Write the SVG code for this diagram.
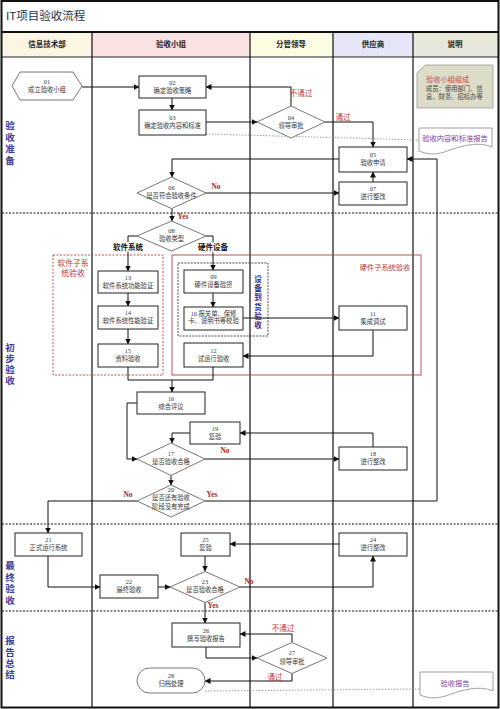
<svg xmlns="http://www.w3.org/2000/svg" width="500" height="709" viewBox="0 0 500 709">
<style>
text{font-family:"Liberation Serif","Noto Sans CJK SC",serif;}
.n{fill:#fff;stroke:#222;stroke-width:1;}
.t{font-size:6.3px;fill:#333;text-anchor:middle;}
.h{font-size:7.5px;font-weight:bold;fill:#222;text-anchor:middle;}
.lane{font-size:9.5px;font-weight:bold;fill:#3a3a9c;text-anchor:middle;}
.c{fill:none;stroke:#111;stroke-width:1;}
.red{font-size:7.5px;fill:#c0392b;text-anchor:middle;}
.yn{font-size:7.5px;font-weight:bold;fill:#a52a2a;text-anchor:middle;}
.bl{font-size:7.5px;font-weight:bold;fill:#111;text-anchor:middle;paint-order:stroke;stroke:#fff;stroke-width:2.5px;}
.dot{fill:none;stroke:#888;stroke-width:0.8;stroke-dasharray:1.5,1.5;}
.doc{fill:#fff;stroke:#888;stroke-width:0.8;}
.pur{font-size:7.3px;fill:#7a3f9a;text-anchor:middle;}
.sep{stroke:#111;stroke-width:1;stroke-dasharray:2,1.5;}
</style>
<defs>
<marker id="a" markerWidth="6" markerHeight="6" refX="5.5" refY="3" orient="auto" markerUnits="userSpaceOnUse">
<path d="M0,0 L6,3 L0,6 z" fill="#111"/>
</marker>
</defs>
<rect width="500" height="709" fill="#fff"/>
<g id="frame">
<text x="6" y="20" style="font-family:'Liberation Sans','Noto Sans CJK SC',sans-serif;font-size:11.5px;fill:#203050">IT项目验收流程</text>
<rect x="2" y="32" width="90" height="25" fill="#fbf5e4"/>
<rect x="92" y="32" width="158" height="25" fill="#fbe2e2"/>
<rect x="250" y="32" width="83" height="25" fill="#fcfce2"/>
<rect x="333" y="32" width="80" height="25" fill="#e6e6f8"/>
<rect x="413" y="32" width="85" height="25" fill="#e6e6da"/>
<text class="h" x="47" y="47">信息技术部</text>
<text class="h" x="171" y="47">验收小组</text>
<text class="h" x="291" y="47">分管领导</text>
<text class="h" x="373" y="47">供应商</text>
<text class="h" x="455" y="47">说明</text>
<line x1="2" y1="57" x2="498" y2="57" stroke="#222" stroke-width="1"/>
<line x1="1" y1="32" x2="499" y2="32" stroke="#111" stroke-width="2"/>
<line x1="92" y1="32" x2="92" y2="707" stroke="#111" stroke-width="1.2"/>
<line x1="250" y1="32" x2="250" y2="707" stroke="#111" stroke-width="1.2"/>
<line x1="333" y1="32" x2="333" y2="707" stroke="#111" stroke-width="1.2"/>
<line x1="413" y1="32" x2="413" y2="707" stroke="#111" stroke-width="1.2"/>
<line class="sep" x1="2" y1="213" x2="498" y2="213"/>
<line class="sep" x1="2" y1="524" x2="498" y2="524"/>
<line class="sep" x1="2" y1="611" x2="498" y2="611"/>
<rect x="1.5" y="1" width="497" height="706.5" fill="none" stroke="#111" stroke-width="2"/>
<text class="lane" x="10" y="129">验</text><text class="lane" x="10" y="141">收</text><text class="lane" x="10" y="152">准</text><text class="lane" x="10" y="164">备</text>
<text class="lane" x="10" y="351">初</text><text class="lane" x="10" y="362">步</text><text class="lane" x="10" y="373">验</text><text class="lane" x="10" y="384">收</text>
<text class="lane" x="10" y="569">最</text><text class="lane" x="10" y="581">终</text><text class="lane" x="10" y="592">验</text><text class="lane" x="10" y="604">收</text>
<text class="lane" x="10" y="644">报</text><text class="lane" x="10" y="656">告</text><text class="lane" x="10" y="667">总</text><text class="lane" x="10" y="678">结</text>
</g>
<g id="groups">
<rect x="53" y="255" width="110" height="120" fill="none" stroke="#c04040" stroke-width="0.9" stroke-dasharray="2,1.5"/>
<text class="red" x="73" y="266" style="font-size:7.8px">软件子系</text>
<text class="red" x="73" y="276" style="font-size:7.8px">统验收</text>
<rect x="172" y="255" width="249" height="120" fill="none" stroke="#b04545" stroke-width="0.9"/>
<text class="red" x="385" y="270" style="font-size:7.2px">硬件子系统验收</text>
<rect x="178" y="263" width="90" height="73" fill="none" stroke="#333" stroke-width="0.9" stroke-dasharray="2,1.2"/>
<g style="font-size:7.5px;font-weight:bold;fill:#2a2a8c;text-anchor:middle">
<text x="258" y="282">设</text><text x="258" y="291">备</text><text x="258" y="300">到</text><text x="258" y="310">货</text><text x="258" y="319">验</text><text x="258" y="328">收</text>
</g>
</g>
<g id="connectors">
<path class="c" d="M82,87 H139" marker-end="url(#a)"/>
<path class="c" d="M172,98 V110" marker-end="url(#a)"/>
<path class="c" d="M206,122 H257" marker-end="url(#a)"/>
<path class="c" d="M291,106 V87 H206" marker-end="url(#a)"/>
<path class="c" d="M325,122 H373 V147" marker-end="url(#a)"/>
<path class="c" d="M339,159 H172 V177" marker-end="url(#a)"/>
<path class="c" d="M206,193 H339" marker-end="url(#a)"/>
<path class="c" d="M373,182 V172" marker-end="url(#a)"/>
<path class="c" d="M172,208 V221" marker-end="url(#a)"/>
<path class="c" d="M137,236 H128 V271" marker-end="url(#a)"/>
<path class="c" d="M206,236 H213 V270" marker-end="url(#a)"/>
<path class="c" d="M128,293 V306" marker-end="url(#a)"/>
<path class="c" d="M128,329 V344" marker-end="url(#a)"/>
<path class="c" d="M213,293 V307" marker-end="url(#a)"/>
<path class="c" d="M243,318 H339" marker-end="url(#a)"/>
<path class="c" d="M373,330 V356 H243" marker-end="url(#a)"/>
<path class="c" d="M128,367 V380 H213 V367"/>
<path class="c" d="M172,380 V392" marker-end="url(#a)"/>
<path class="c" d="M137,403 H127 V459 H137" marker-end="url(#a)"/>
<path class="c" d="M190,433 H172 V443" marker-end="url(#a)"/>
<path class="c" d="M373,447 V433 H240" marker-end="url(#a)"/>
<path class="c" d="M205,459 H339" marker-end="url(#a)"/>
<path class="c" d="M171,475.5 V485" marker-end="url(#a)"/>
<path class="c" d="M137,501 H48 V533" marker-end="url(#a)"/>
<path class="c" d="M205,501 H437 V159 H407" marker-end="url(#a)"/>
<path class="c" d="M48,556 V587 H100" marker-end="url(#a)"/>
<path class="c" d="M158,587 H170" marker-end="url(#a)"/>
<path class="c" d="M240,587 H373 V556" marker-end="url(#a)"/>
<path class="c" d="M339,544 H230" marker-end="url(#a)"/>
<path class="c" d="M205,556 V571" marker-end="url(#a)"/>
<path class="c" d="M205,602.5 V623" marker-end="url(#a)"/>
<path class="c" d="M206,647 V658 H257" marker-end="url(#a)"/>
<path class="c" d="M292,642.5 V634 H240" marker-end="url(#a)"/>
<path class="c" d="M292,673.5 V681 H205" marker-end="url(#a)"/>
<path class="dot" d="M206,134 L419,140"/>
<path class="dot" d="M205,691 L420,689"/>
<text class="red" x="301" y="96">不通过</text>
<text class="red" x="343" y="120">通过</text>
<text class="yn" x="216" y="189">No</text>
<text class="yn" x="183" y="219">Yes</text>
<text class="bl" x="128" y="250">软件系统</text>
<text class="bl" x="213" y="250">硬件设备</text>
<text class="yn" x="225" y="453">No</text>
<text class="yn" x="128" y="497">No</text>
<text class="yn" x="212" y="497">Yes</text>
<text class="yn" x="249" y="584">No</text>
<text class="yn" x="213" y="608">Yes</text>
<text class="red" x="283" y="631">不通过</text>
<text class="red" x="275" y="680">通过</text>
</g>
<g id="n01"><polygon class="n" points="12,86 20,72 73,72 82,86 73,100 20,100" style="stroke:#777"/><text class="t" x="47" y="84">01</text><text class="t" x="47" y="92">成立验收小组</text></g>
<g id="n02"><rect class="n" x="139" y="76" width="67" height="22"/><text class="t" x="172.5" y="85">02</text><text class="t" x="172.5" y="92.5">确定验收策略</text></g>
<g id="n03"><rect class="n" x="139" y="110" width="67" height="25"/><text class="t" x="172.5" y="120">03</text><text class="t" x="172.5" y="128">确定验收内容和标准</text></g>
<g id="n04"><polygon class="n" points="291,106 325,122 291,138 257,122" style="stroke:#777"/><text class="t" x="291" y="120">04</text><text class="t" x="291" y="128">领导审批</text></g>
<g id="n05"><rect class="n" x="339" y="147" width="68" height="25"/><text class="t" x="373" y="157">05</text><text class="t" x="373" y="165">验收申请</text></g>
<g id="n06"><polygon class="n" points="171.5,177 206,193 171.5,208.5 137,193" style="stroke:#777"/><text class="t" x="171.5" y="190">06</text><text class="t" x="171.5" y="198">是否符合验收条件</text></g>
<g id="n07"><rect class="n" x="339" y="182" width="68" height="23"/><text class="t" x="373" y="191">07</text><text class="t" x="373" y="199">进行整改</text></g>
<g id="n08"><polygon class="n" points="171.5,221 206,236 171.5,251 137,236" style="stroke:#777"/><text class="t" x="171.5" y="233">08</text><text class="t" x="171.5" y="241">验收类型</text></g>
<g id="n13"><rect class="n" x="98" y="271" width="60" height="22"/><text class="t" x="128" y="280">13</text><text class="t" x="128" y="287.5">软件系统功能验证</text></g>
<g id="n14"><rect class="n" x="98" y="306" width="60" height="23"/><text class="t" x="128" y="315">14</text><text class="t" x="128" y="323">软件系统性能验证</text></g>
<g id="n15"><rect class="n" x="98" y="344" width="60" height="23"/><text class="t" x="128" y="353">15</text><text class="t" x="128" y="361">资料验收</text></g>
<g id="n09"><rect class="n" x="184" y="270" width="59" height="23"/><text class="t" x="213.5" y="279">09</text><text class="t" x="213.5" y="287">硬件设备验货</text></g>
<g id="n10"><rect class="n" x="184" y="307" width="59" height="23"/><text class="t" x="213.5" y="315.5">10 报关单、保修</text><text class="t" x="213.5" y="323">卡、说明书等校验</text></g>
<g id="n11"><rect class="n" x="339" y="306" width="68" height="24"/><text class="t" x="373" y="315.5">11</text><text class="t" x="373" y="323.5">集成调试</text></g>
<g id="n12"><rect class="n" x="184" y="343" width="59" height="24"/><text class="t" x="213.5" y="352.5">12</text><text class="t" x="213.5" y="360.5">试运行验收</text></g>
<g id="n16"><rect class="n" x="137" y="392" width="68" height="22"/><text class="t" x="171" y="400.5">16</text><text class="t" x="171" y="408.5">综合评议</text></g>
<g id="n19"><rect class="n" x="190" y="422" width="50" height="22"/><text class="t" x="215" y="430.5">19</text><text class="t" x="215" y="438.5">复验</text></g>
<g id="n17"><polygon class="n" points="171,443 205,459 171,475.5 137,459" style="stroke:#777"/><text class="t" x="171" y="456">17</text><text class="t" x="171" y="464">是否验收合格</text></g>
<g id="n18"><rect class="n" x="339" y="447" width="68" height="23"/><text class="t" x="373" y="456">18</text><text class="t" x="373" y="464">进行整改</text></g>
<g id="n20"><polygon class="n" points="171,485 205,501 171,517 137,501" style="stroke:#777"/><text class="t" x="171" y="491.5">20</text><text class="t" x="171" y="500">是否还有验收</text><text class="t" x="171" y="508.5">阶段没有完成</text></g>
<g id="n21"><rect class="n" x="15" y="533" width="67" height="23"/><text class="t" x="48.5" y="542">21</text><text class="t" x="48.5" y="550">正式运行系统</text></g>
<g id="n22"><rect class="n" x="100" y="575" width="58" height="23"/><text class="t" x="129" y="584">22</text><text class="t" x="129" y="592">最终验收</text></g>
<g id="n23"><polygon class="n" points="205,571.5 240,587 205,602.5 170,587" style="stroke:#777"/><text class="t" x="205" y="584">23</text><text class="t" x="205" y="592">是否验收合格</text></g>
<g id="n24"><rect class="n" x="339" y="533" width="68" height="23"/><text class="t" x="373" y="542">24</text><text class="t" x="373" y="550">进行整改</text></g>
<g id="n25"><rect class="n" x="181" y="533" width="49" height="23"/><text class="t" x="205.5" y="542">25</text><text class="t" x="205.5" y="550">复验</text></g>
<g id="n26"><rect class="n" x="172" y="623" width="68" height="24"/><text class="t" x="206" y="632.5">26</text><text class="t" x="206" y="640.5">撰写验收报告</text></g>
<g id="n27"><polygon class="n" points="292,642.5 327,658 292,673.5 257,658" style="stroke:#777"/><text class="t" x="292" y="655">27</text><text class="t" x="292" y="663.5">领导审批</text></g>
<g id="n28"><rect class="n" x="137" y="668" width="68" height="25" rx="12.5" style="stroke:#777"/><text class="t" x="171" y="678">28</text><text class="t" x="171" y="686">归档处理</text></g>
<g id="note1"><polygon points="425,65 493,65 493,108 417,108 417,73" fill="#dcdcc8" stroke="#999" stroke-width="0.8"/><text x="426" y="82" style="font-size:7.2px;fill:#c0504d">验收小组组成</text><text x="426" y="91" style="font-size:6.3px;fill:#444">成员：使用部门、信</text><text x="426" y="99" style="font-size:6.3px;fill:#444">息、财务、招标办等</text></g>
<g id="doc1"><path class="doc" d="M419,128 H492 V147 C478,141 462,146 450,150 C438,155 428,155 419,151 Z"/><text class="pur" x="455" y="141">验收内容和标准报告</text></g>
<g id="doc2"><path class="doc" d="M420,672 H493 V691 C479,685 463,690 451,694 C439,699 429,699 420,695 Z"/><text class="pur" x="455" y="686">验收报告</text></g>
</svg>
